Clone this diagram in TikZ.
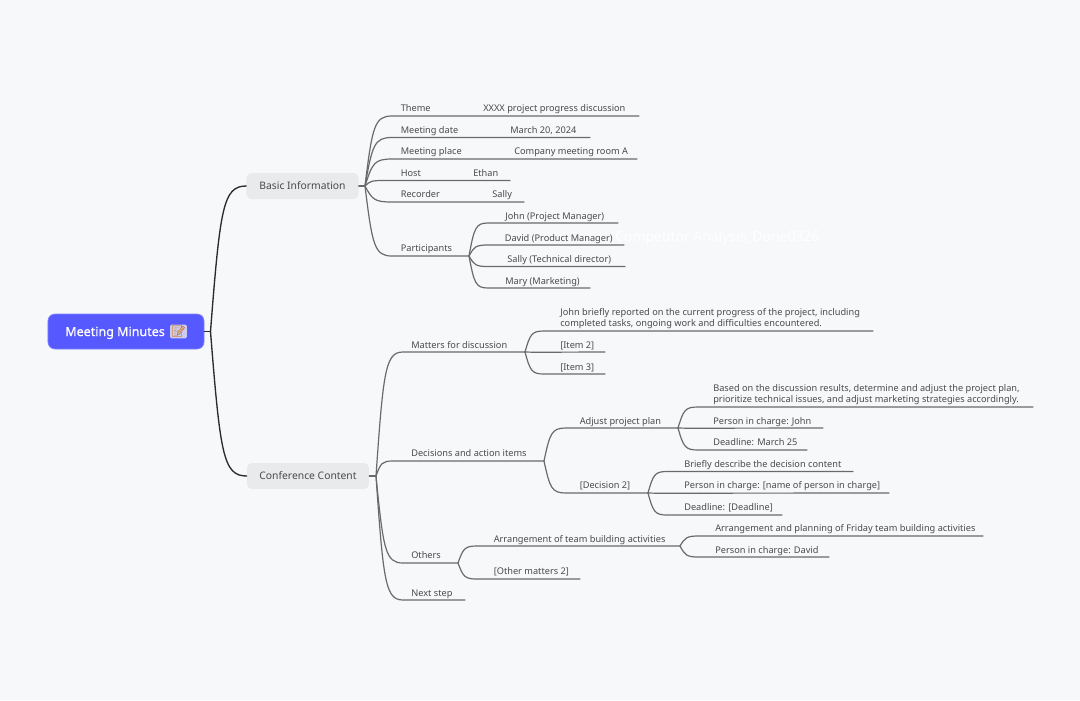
\documentclass[tikz,border=0pt]{standalone}
\usepackage{fontspec}
\setmainfont{Noto Sans}
\newfontfamily\emojifont{Noto Emoji}
\newfontfamily\rootfont[FakeBold=0.9]{Noto Sans}
\usetikzlibrary{calc}
\definecolor{paper}{HTML}{F7F8FA}
\definecolor{rootfill}{HTML}{5559FF}
\definecolor{topicfill}{HTML}{E9EAEC}
\definecolor{ink}{HTML}{2B2B2B}
\definecolor{ink2}{HTML}{4A4A4A}
\definecolor{stemc}{HTML}{6A6A6A}
\tikzset{
  x=0.025cm, y=-0.025cm,
  every picture/.style={line cap=round, line join=round},
  branch/.style={to path={let \p1=(\tikztostart), \p2=(\tikztotarget) in
    .. controls ({\x1+0.27*(\x2-\x1)},{\y1+0.85*(\y2-\y1)}) and ({\x1+0.35*(\x2-\x1)},\y2) .. (\tikztotarget)}},
  stem/.style={draw=stemc, line width=0.85pt},
  trunk/.style={draw=ink, line width=0.95pt},
  rootbox/.style={fill=rootfill, draw=rootfill!75!white, line width=0.5pt, rounded corners=5pt,
    minimum width=3.9cm, minimum height=0.875cm, inner sep=0pt},
  topic/.style={fill=topicfill, rounded corners=3.5pt, minimum height=0.65cm, inner sep=0pt,
    text height=5.4pt, text depth=1pt, text=ink2, font=\fontsize{7.35pt}{9pt}\selectfont},
  lbl/.style={anchor=base west, inner sep=0pt, text=ink2, font=\fontsize{6.55pt}{7.8pt}\selectfont},
  para/.style={lbl, anchor=south west, align=left},
}
\begin{document}
\begin{tikzpicture}
  \useasboundingbox (0,0) rectangle (1080,700);
  \fill[paper] (0,0) rectangle (1080,700);
  % root and the two topics
  \node[rootbox] (root) at (126,331.5) {};
  \node[anchor=base west, inner sep=0pt, text=white, font=\rootfont\fontsize{8.9pt}{11pt}\selectfont] (rootname) at (65,336) {Meeting Minutes};
  \node[anchor=center, inner sep=0.6pt, fill=topicfill!80!rootfill, rounded corners=1pt, text=orange!80!black, font=\emojifont\fontsize{8.4pt}{10pt}\selectfont] (memo) at (178.5,331.5) {^^^^^^01f4dd};
  \node[topic, minimum width=2.8cm] (basic) at (302.5,186) {Basic Information};
  \node[topic, minimum width=3.05cm] (conf) at (308,476) {Conference Content};
  \coordinate (jroot) at (210.5,331.5);
  \coordinate (jbasic) at (365,186);
  \coordinate (jconf) at (376,476);
  \draw[trunk] (root.east) -- (jroot);
  \draw[trunk] (jroot) to[branch] (basic.west);
  \draw[trunk] (jroot) to[branch] (conf.west);
  \draw[stem] (basic.east) -- (jbasic);
  \draw[stem] (conf.east) -- (jconf);
  % basic information
  \path (392,116) coordinate (themeA) (639,116) coordinate (themeB)
    (392,137.5) coordinate (dateA) (590,137.5) coordinate (dateB)
    (392,159) coordinate (placeA) (637,159) coordinate (placeB)
    (383,180.5) coordinate (hostA) (510,180.5) coordinate (hostB)
    (392,202) coordinate (recA) (524,202) coordinate (recB)
    (392,256) coordinate (partA) (469,256) coordinate (partB);
  \draw[stem] (jbasic) to[branch] (themeA) -- (themeB);
  \draw[stem] (jbasic) to[branch] (dateA) -- (dateB);
  \draw[stem] (jbasic) to[branch] (placeA) -- (placeB);
  \draw[stem] (jbasic) to[branch] (hostA) -- (hostB);
  \draw[stem] (jbasic) to[branch] (recA) -- (recB);
  \draw[stem] (jbasic) to[branch] (partA) -- (partB);
  \node[lbl] (theme) at (400.5,111.5) {Theme};
  \node[lbl] (themev) at (483,111.5) {XXXX project progress discussion};
  \node[lbl] (date) at (400.5,133) {Meeting date};
  \node[lbl] (datev) at (510,133) {March 20, 2024};
  \node[lbl] (place) at (400.5,154.5) {Meeting place};
  \node[lbl] (placev) at (514,154.5) {Company meeting room A};
  \node[lbl] (host) at (400.5,176) {Host};
  \node[lbl] (hostv) at (473,176) {Ethan};
  \node[lbl] (rec) at (400.5,197.5) {Recorder};
  \node[lbl] (recv) at (492,197.5) {Sally};
  \node[lbl] (part) at (400.5,251.5) {Participants};
  % participants
  \path (488,223) coordinate (johnA) (618,223) coordinate (johnB)
    (488,245) coordinate (davidA) (624,245) coordinate (davidB)
    (488,266.5) coordinate (sallyA) (625,266.5) coordinate (sallyB)
    (488,288) coordinate (maryA) (590,288) coordinate (maryB);
  \draw[stem] (partB) to[branch] (johnA) -- (johnB);
  \draw[stem] (partB) to[branch] (davidA) -- (davidB);
  \draw[stem] (partB) to[branch] (sallyA) -- (sallyB);
  \draw[stem] (partB) to[branch] (maryA) -- (maryB);
  \node[lbl] (john) at (505,219) {John (Project Manager)};
  \node[lbl] (david) at (504.5,241) {David (Product Manager)};
  \node[lbl] (sally) at (507,262.5) {Sally (Technical director)};
  \node[lbl] (mary) at (505,284) {Mary (Marketing)};
  \node[lbl, text=white, font=\fontsize{9.9pt}{11pt}\selectfont] (mark) at (615,241) {Competitor Analysis\_Done0326};
  % conference content
  \path (403,352) coordinate (matA) (525,352) coordinate (matB)
    (393,461) coordinate (decA) (544,461) coordinate (decB)
    (403,563) coordinate (othA) (458,563) coordinate (othB)
    (403,600) coordinate (nextA) (465,600) coordinate (nextB);
  \draw[stem] (jconf) to[branch] (matA) -- (matB);
  \draw[stem] (jconf) to[branch] (decA) -- (decB);
  \draw[stem] (jconf) to[branch] (othA) -- (othB);
  \draw[stem] (jconf) to[branch] (nextA) -- (nextB);
  \node[lbl] (mat) at (411,348) {Matters for discussion};
  \node[lbl] (dec) at (411,456.5) {Decisions and action items};
  \node[lbl] (oth) at (411,558.5) {Others};
  \node[lbl] (next) at (411,596) {Next step};
  % matters for discussion
  \path (544,331) coordinate (reportA) (873,331) coordinate (reportB)
    (544,352.2) coordinate (itemtwoA) (605,352) coordinate (itemtwoB)
    (544,374) coordinate (itemthreeA) (605,374) coordinate (itemthreeB);
  \draw[stem] (matB) to[branch] (reportA) -- (reportB);
  \draw[stem] (matB) to[branch] (itemtwoA) -- (itemtwoB);
  \draw[stem] (matB) to[branch] (itemthreeA) -- (itemthreeB);
  \node[para] (report) at (560,329) {John briefly reported on the current progress of the project, including\\ completed tasks, ongoing work and difficulties encountered.};
  \node[lbl] (itemtwo) at (560,348) {[Item 2]};
  \node[lbl] (itemthree) at (560,370) {[Item 3]};
  % decisions and action items
  \path (566,428) coordinate (adjA) (678,428) coordinate (adjB)
    (566,493) coordinate (dectwoA) (648,493) coordinate (dectwoB);
  \draw[stem] (decB) to[branch] (adjA) -- (adjB);
  \draw[stem] (decB) to[branch] (dectwoA) -- (dectwoB);
  \node[lbl] (adj) at (579.5,424) {Adjust project plan};
  \node[lbl] (dectwo) at (579.5,488.5) {[Decision 2]};
  \path (698,407) coordinate (basedA) (1033,407) coordinate (basedB)
    (698,428.2) coordinate (chargeA) (823,428) coordinate (chargeB)
    (698,450) coordinate (lineA) (807,450) coordinate (lineB);
  \draw[stem] (adjB) to[branch] (basedA) -- (basedB);
  \draw[stem] (adjB) to[branch] (chargeA) -- (chargeB);
  \draw[stem] (adjB) to[branch] (lineA) -- (lineB);
  \node[para] (based) at (713,405) {Based on the discussion results, determine and adjust the project plan,\\ prioritize technical issues, and adjust marketing strategies accordingly.};
  \node[lbl] (charge) at (713,424) {Person in charge: John};
  \node[lbl] (line) at (713,445.5) {Deadline: March 25};
  \path (667,471.5) coordinate (descA) (853,471.5) coordinate (descB)
    (667,493.2) coordinate (nameA) (889,493) coordinate (nameB)
    (667,515) coordinate (dlA) (782,515) coordinate (dlB);
  \draw[stem] (dectwoB) to[branch] (descA) -- (descB);
  \draw[stem] (dectwoB) to[branch] (nameA) -- (nameB);
  \draw[stem] (dectwoB) to[branch] (dlA) -- (dlB);
  \node[lbl] (desc) at (684,467) {Briefly describe the decision content};
  \node[lbl] (name) at (684,488.5) {Person in charge: [name of person in charge]};
  \node[lbl] (dl) at (684,510) {Deadline: [Deadline]};
  % others
  \path (477,546) coordinate (teamA) (680,546) coordinate (teamB)
    (477,579) coordinate (otherA) (580,579) coordinate (otherB);
  \draw[stem] (othB) to[branch] (teamA) -- (teamB);
  \draw[stem] (othB) to[branch] (otherA) -- (otherB);
  \node[lbl] (team) at (493.5,542.5) {Arrangement of team building activities};
  \node[lbl] (other) at (493.5,574.5) {[Other matters 2]};
  \path (699,536) coordinate (fridayA) (983,536) coordinate (fridayB)
    (699,557) coordinate (davidcA) (829,557) coordinate (davidcB);
  \draw[stem] (teamB) to[branch] (fridayA) -- (fridayB);
  \draw[stem] (teamB) to[branch] (davidcA) -- (davidcB);
  \node[lbl] (friday) at (715,531.5) {Arrangement and planning of Friday team building activities};
  \node[lbl] (davidc) at (715,553) {Person in charge: David};
\end{tikzpicture}
\end{document}
